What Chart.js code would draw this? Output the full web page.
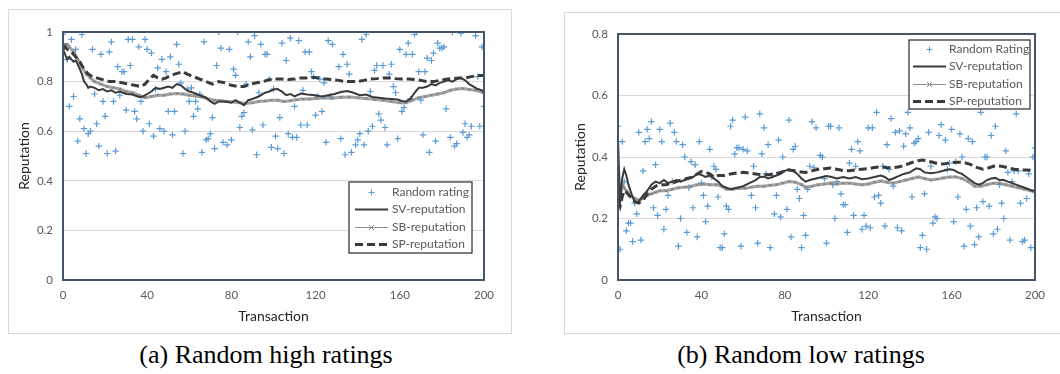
<!DOCTYPE html>
<html>
<head>
<meta charset="utf-8">
<script src="https://cdn.jsdelivr.net/npm/chart.js@4.4.1/dist/chart.umd.min.js"></script>
<style>
  html,body{margin:0;padding:0;background:#fff;}
  body{width:1060px;height:374px;position:relative;overflow:hidden;}
  .frame{position:absolute;border:1px solid #d9d9d9;box-sizing:border-box;}
  canvas{position:absolute;}
  .cap{position:absolute;font-family:"Liberation Serif","Times New Roman",serif;font-size:26px;line-height:30px;color:#000;white-space:nowrap;transform:translateX(-50%);}
</style>
</head>
<body>
<div class="frame" style="left:8px;top:9px;width:504px;height:325px;"></div>
<div class="frame" style="left:564px;top:12px;width:500px;height:322px;"></div>
<canvas id="ca" width="501" height="322" style="left:9px;top:10px;"></canvas>
<canvas id="cb" width="495" height="319" style="left:565px;top:13px;"></canvas>
<div class="cap" id="capA" style="left:266px;top:340px;"></div>
<div class="cap" id="capB" style="left:801px;top:340px;"></div>
<script>
// ---------- DATA ----------
const xTicksStep = 40;
const xMax = 200;
const yMaxHigh = 1;
const yMaxLow = 0.8;
const seriesLabelsHigh = ["Random rating","SV-reputation","SB-reputation","SP-reputation"];
const seriesLabelsLow  = ["Random Rating","SV-reputation","SB-reputation","SP-reputation"];
const captionHigh = "(a) Random high ratings";
const captionLow = "(b) Random low ratings";

// Panel (a): random high ratings  [transaction, rating]
const ratingHigh = [[0,0.953],[1,1.0],[2,0.89],[3,0.70],[4,0.97],[5,0.74],[6,0.93],[7,0.56],[8,0.65],[9,0.99],[10,0.61],[11,0.51],[12,0.59],[13,0.60],[14,0.93],[15,0.75],[16,0.63],[17,0.54],[18,0.91],[19,0.72],[20,0.66],[21,0.51],[22,0.92],[23,0.96],[24,0.72],[25,0.52],[26,0.86],[27,0.745],[28,0.84],[29,0.84],[30,0.685],[31,0.97],[32,0.865],[33,0.97],[34,0.68],[35,0.65],[36,0.94],[37,0.72],[38,0.60],[39,0.97],[40,0.93],[41,0.63],[42,0.915],[43,0.58],[44,0.77],[45,0.855],[46,0.61],[47,0.89],[48,0.60],[49,0.84],[50,0.68],[51,0.90],[52,0.585],[53,0.68],[54,0.95],[55,0.87],[56,0.795],[57,0.51],[58,0.60],[59,0.77],[60,0.72],[61,0.775],[62,0.66],[63,0.72],[64,0.69],[65,0.75],[66,0.515],[67,0.96],[68,0.565],[69,0.57],[70,0.59],[71,0.655],[72,0.53],[73,0.865],[74,1.0],[75,0.935],[76,0.555],[78,0.545],[79,0.93],[80,0.565],[81,0.85],[82,0.825],[83,1.0],[84,0.615],[85,0.66],[86,0.675],[87,0.79],[88,0.96],[89,0.90],[90,0.605],[91,0.985],[92,0.505],[93,0.755],[94,0.95],[95,0.625],[96,0.91],[97,0.91],[98,0.81],[99,0.535],[100,0.77],[101,0.58],[102,0.53],[103,0.655],[104,0.955],[105,0.51],[106,0.885],[107,0.59],[108,0.975],[109,0.575],[110,0.70],[111,0.575],[112,0.965],[113,0.625],[114,0.765],[115,0.92],[116,0.625],[117,0.92],[118,0.84],[119,0.82],[120,0.665],[121,0.74],[122,0.81],[123,0.68],[124,0.795],[125,0.555],[126,0.965],[127,0.74],[128,0.95],[131,0.86],[132,0.57],[133,0.91],[134,0.505],[135,0.87],[136,0.83],[137,0.515],[139,0.545],[140,0.565],[141,0.59],[142,0.97],[143,0.545],[144,0.99],[145,0.60],[146,0.76],[147,0.62],[148,0.845],[149,0.865],[150,0.67],[151,0.645],[152,0.865],[153,0.615],[154,0.545],[155,0.83],[156,0.87],[157,0.78],[158,0.755],[159,0.57],[160,0.93],[161,0.68],[162,0.695],[163,0.91],[164,0.955],[165,0.73],[166,0.91],[167,0.99],[168,1.0],[169,0.84],[170,0.725],[171,0.585],[172,0.84],[173,0.895],[174,0.515],[175,0.885],[176,0.915],[177,0.56],[178,0.955],[179,0.935],[180,0.935],[181,0.94],[182,0.69],[184,0.575],[185,1.0],[186,0.54],[187,0.55],[189,0.995],[190,0.595],[191,0.63],[192,0.575],[193,0.585],[194,0.62],[196,0.985],[197,0.82],[198,0.62],[199,0.94],[200,0.70]];
const svHigh = [[0,0.93],[1,0.91],[2,0.89],[3,0.90],[4,0.89],[5,0.88],[6,0.885],[7,0.87],[8,0.85],[9,0.83],[10,0.80],[11,0.79],[12,0.775],[13,0.78],[15,0.775],[17,0.765],[19,0.77],[21,0.76],[23,0.765],[25,0.755],[27,0.76],[30,0.75],[33,0.748],[36,0.738],[38,0.74],[40,0.75],[42,0.76],[44,0.775],[46,0.77],[48,0.775],[50,0.78],[52,0.775],[54,0.79],[56,0.785],[58,0.77],[60,0.76],[62,0.755],[65,0.745],[68,0.735],[70,0.72],[72,0.71],[74,0.72],[77,0.72],[80,0.715],[82,0.725],[84,0.715],[86,0.705],[88,0.725],[90,0.73],[93,0.74],[96,0.755],[98,0.76],[100,0.768],[102,0.77],[104,0.76],[106,0.745],[108,0.75],[110,0.74],[113,0.752],[116,0.748],[120,0.745],[123,0.74],[126,0.745],[129,0.75],[132,0.758],[135,0.762],[138,0.755],[141,0.745],[144,0.748],[147,0.738],[150,0.735],[153,0.732],[156,0.73],[159,0.728],[161,0.722],[163,0.72],[165,0.73],[167,0.755],[169,0.775],[171,0.775],[173,0.78],[175,0.79],[177,0.785],[179,0.795],[181,0.80],[183,0.805],[185,0.80],[187,0.81],[189,0.815],[191,0.805],[193,0.79],[195,0.78],[197,0.77],[199,0.765],[200,0.755]];
const sbHigh = [[0,0.94],[1,0.95],[2,0.95],[3,0.94],[5,0.92],[7,0.89],[9,0.86],[11,0.83],[13,0.815],[15,0.80],[18,0.79],[21,0.78],[24,0.775],[27,0.77],[30,0.76],[33,0.755],[36,0.745],[39,0.735],[42,0.74],[45,0.745],[48,0.745],[51,0.75],[54,0.752],[57,0.75],[60,0.745],[63,0.742],[66,0.738],[69,0.73],[72,0.725],[75,0.723],[78,0.72],[81,0.718],[84,0.715],[87,0.713],[90,0.715],[93,0.72],[96,0.722],[99,0.725],[102,0.725],[105,0.72],[108,0.723],[111,0.727],[114,0.73],[117,0.73],[120,0.732],[124,0.735],[128,0.733],[132,0.737],[136,0.738],[140,0.735],[144,0.732],[148,0.728],[152,0.725],[156,0.72],[160,0.715],[163,0.715],[166,0.725],[169,0.735],[172,0.74],[175,0.745],[178,0.75],[181,0.755],[184,0.765],[187,0.77],[190,0.772],[193,0.768],[196,0.765],[200,0.755]];
const spHigh = [[0,0.93],[1,0.94],[2,0.93],[4,0.92],[6,0.90],[8,0.88],[10,0.85],[12,0.83],[14,0.82],[16,0.815],[18,0.81],[20,0.805],[22,0.80],[25,0.80],[28,0.795],[31,0.79],[34,0.785],[37,0.78],[39,0.79],[41,0.81],[43,0.825],[45,0.815],[47,0.81],[49,0.815],[51,0.825],[53,0.83],[55,0.835],[57,0.84],[59,0.83],[62,0.82],[65,0.81],[68,0.80],[71,0.79],[74,0.80],[77,0.795],[80,0.785],[83,0.78],[86,0.78],[89,0.79],[92,0.795],[95,0.80],[98,0.808],[101,0.81],[104,0.81],[107,0.808],[110,0.81],[113,0.815],[116,0.815],[119,0.817],[122,0.814],[125,0.81],[128,0.808],[131,0.805],[134,0.80],[137,0.80],[140,0.80],[143,0.805],[146,0.81],[149,0.812],[152,0.815],[155,0.815],[158,0.812],[161,0.81],[164,0.81],[167,0.808],[170,0.805],[173,0.80],[176,0.80],[179,0.805],[182,0.81],[185,0.812],[188,0.815],[191,0.815],[194,0.82],[197,0.825],[200,0.825]];

// Panel (b): random low ratings  [transaction, rating]
const ratingLow = [[0,0.50],[1,0.10],[2,0.45],[3,0.32],[4,0.16],[5,0.185],[6,0.185],[7,0.125],[8,0.25],[9,0.215],[10,0.48],[11,0.13],[12,0.355],[13,0.45],[14,0.49],[15,0.46],[16,0.515],[17,0.235],[18,0.375],[19,0.21],[20,0.49],[21,0.45],[22,0.165],[23,0.23],[24,0.275],[25,0.51],[26,0.32],[27,0.48],[28,0.45],[29,0.11],[30,0.20],[31,0.44],[32,0.40],[33,0.155],[34,0.30],[35,0.385],[36,0.235],[37,0.375],[38,0.14],[39,0.45],[40,0.315],[41,0.275],[42,0.19],[43,0.24],[44,0.425],[45,0.335],[46,0.37],[47,0.36],[48,0.27],[49,0.105],[50,0.105],[51,0.15],[52,0.24],[53,0.23],[54,0.50],[55,0.52],[56,0.41],[57,0.43],[58,0.43],[59,0.11],[60,0.425],[61,0.53],[62,0.42],[64,0.275],[65,0.37],[66,0.235],[67,0.12],[68,0.54],[69,0.41],[70,0.495],[71,0.345],[72,0.44],[73,0.105],[74,0.34],[75,0.215],[76,0.275],[77,0.455],[78,0.205],[79,0.40],[81,0.23],[82,0.52],[83,0.14],[84,0.425],[85,0.435],[86,0.295],[87,0.265],[88,0.105],[89,0.21],[90,0.145],[91,0.295],[92,0.37],[93,0.515],[94,0.365],[95,0.495],[97,0.405],[98,0.40],[99,0.33],[100,0.12],[101,0.50],[102,0.50],[103,0.31],[104,0.20],[105,0.32],[106,0.495],[107,0.28],[108,0.245],[109,0.245],[110,0.155],[111,0.38],[112,0.425],[113,0.21],[114,0.37],[115,0.45],[116,0.42],[117,0.165],[118,0.21],[119,0.175],[120,0.495],[121,0.17],[122,0.495],[123,0.27],[124,0.545],[125,0.275],[126,0.25],[127,0.37],[128,0.175],[129,0.44],[130,0.36],[131,0.525],[132,0.305],[133,0.48],[134,0.17],[135,0.485],[136,0.16],[137,0.435],[138,0.475],[139,0.545],[140,0.495],[141,0.27],[142,0.445],[143,0.45],[144,0.46],[145,0.105],[146,0.145],[147,0.28],[148,0.10],[149,0.48],[150,0.37],[151,0.185],[152,0.205],[153,0.20],[154,0.47],[155,0.505],[157,0.455],[158,0.36],[159,0.38],[160,0.49],[161,0.19],[162,0.385],[163,0.27],[164,0.475],[165,0.40],[166,0.11],[167,0.23],[168,0.46],[169,0.175],[170,0.45],[171,0.115],[172,0.235],[173,0.14],[174,0.545],[175,0.255],[176,0.40],[177,0.40],[178,0.24],[179,0.47],[180,0.15],[181,0.50],[182,0.165],[183,0.31],[184,0.25],[185,0.20],[186,0.42],[187,0.35],[188,0.13],[189,0.32],[190,0.355],[191,0.54],[192,0.355],[193,0.25],[194,0.125],[195,0.13],[196,0.265],[197,0.345],[198,0.105],[199,0.40],[200,0.43]];
const svLow = [[0,0.46],[1,0.25],[2,0.33],[3,0.36],[4,0.34],[5,0.31],[6,0.29],[7,0.27],[8,0.255],[9,0.25],[10,0.255],[11,0.265],[12,0.275],[14,0.29],[16,0.31],[18,0.32],[20,0.315],[22,0.325],[24,0.315],[26,0.32],[28,0.325],[30,0.32],[32,0.325],[34,0.33],[36,0.335],[38,0.345],[40,0.342],[42,0.335],[44,0.34],[46,0.33],[48,0.32],[50,0.305],[52,0.30],[54,0.295],[57,0.30],[60,0.305],[63,0.315],[66,0.325],[68,0.335],[70,0.336],[72,0.33],[74,0.335],[76,0.34],[78,0.345],[80,0.355],[82,0.36],[84,0.355],[86,0.345],[88,0.33],[90,0.32],[92,0.325],[95,0.33],[98,0.335],[100,0.338],[102,0.336],[105,0.33],[108,0.335],[111,0.33],[114,0.335],[117,0.328],[120,0.33],[123,0.335],[126,0.34],[128,0.335],[130,0.325],[132,0.33],[134,0.336],[137,0.345],[140,0.35],[143,0.363],[145,0.36],[147,0.35],[150,0.347],[153,0.35],[156,0.355],[159,0.36],[161,0.358],[163,0.35],[165,0.345],[167,0.335],[169,0.325],[171,0.315],[173,0.31],[175,0.315],[177,0.325],[179,0.33],[181,0.332],[183,0.325],[185,0.325],[187,0.32],[189,0.315],[191,0.31],[193,0.305],[195,0.30],[197,0.295],[199,0.29],[200,0.293]];
const sbLow = [[0,0.30],[1,0.27],[2,0.31],[3,0.30],[4,0.29],[6,0.275],[8,0.265],[10,0.26],[12,0.265],[14,0.275],[16,0.28],[18,0.285],[20,0.29],[23,0.29],[26,0.295],[29,0.30],[32,0.302],[35,0.305],[38,0.31],[41,0.312],[44,0.31],[47,0.31],[50,0.305],[52,0.295],[55,0.295],[58,0.298],[61,0.298],[64,0.302],[67,0.305],[70,0.305],[73,0.308],[76,0.31],[79,0.315],[82,0.32],[85,0.318],[88,0.31],[90,0.302],[93,0.305],[96,0.31],[99,0.312],[102,0.315],[105,0.312],[108,0.315],[111,0.315],[114,0.312],[117,0.31],[120,0.312],[123,0.318],[126,0.322],[129,0.318],[132,0.315],[135,0.32],[138,0.325],[141,0.33],[144,0.335],[147,0.33],[150,0.325],[153,0.328],[156,0.332],[159,0.335],[162,0.335],[165,0.33],[168,0.32],[171,0.305],[174,0.305],[177,0.31],[180,0.315],[183,0.315],[186,0.31],[189,0.305],[192,0.30],[195,0.295],[198,0.29],[200,0.285]];
const spLow = [[0,0.26],[1,0.24],[2,0.27],[3,0.29],[4,0.285],[6,0.27],[8,0.255],[10,0.25],[12,0.26],[14,0.28],[16,0.295],[18,0.305],[20,0.31],[23,0.31],[26,0.315],[28,0.32],[30,0.325],[33,0.33],[36,0.335],[38,0.345],[40,0.353],[42,0.35],[44,0.345],[46,0.335],[48,0.34],[51,0.34],[54,0.345],[57,0.348],[60,0.35],[63,0.348],[66,0.345],[69,0.342],[72,0.342],[75,0.345],[78,0.35],[81,0.358],[84,0.356],[87,0.352],[90,0.35],[93,0.355],[96,0.36],[99,0.362],[102,0.364],[105,0.36],[108,0.356],[111,0.355],[114,0.358],[117,0.36],[120,0.362],[123,0.366],[126,0.368],[129,0.366],[132,0.365],[135,0.368],[138,0.375],[141,0.382],[144,0.388],[146,0.39],[148,0.388],[151,0.383],[154,0.377],[157,0.378],[160,0.382],[163,0.383],[166,0.382],[169,0.376],[172,0.366],[175,0.36],[178,0.365],[181,0.372],[184,0.37],[187,0.365],[190,0.36],[193,0.358],[196,0.358],[200,0.355]];

// ---------- RENDERING ----------
document.getElementById('capA').textContent = captionHigh;
document.getElementById('capB').textContent = captionLow;
const toPts = arr => arr.map(p => ({x: p[0], y: p[1]}));
const FONT = "Lato, 'Open Sans', sans-serif";

const framePlugin = {
  id: 'frameAndLegend',
  afterDraw(chart, args, opts) {
    const ctx = chart.ctx;
    const a = chart.chartArea;
    ctx.save();
    ctx.strokeStyle = '#44546A';
    ctx.lineWidth = 2;
    ctx.strokeRect(a.left, a.top, a.right - a.left, a.bottom - a.top);
    const L = opts.legend;
    ctx.fillStyle = '#ffffff';
    ctx.fillRect(L.x, L.y, L.w, L.h);
    ctx.strokeStyle = '#3a3a3a';
    ctx.lineWidth = 1.3;
    ctx.strokeRect(L.x, L.y, L.w, L.h);
    ctx.font = "12px " + FONT;
    ctx.textBaseline = 'middle';
    chart.data.datasets.forEach((ds, i) => {
      const cy = Math.round(L.y + L.first + i * L.row) + 0.5;
      const sx = L.x + L.s0, ex = L.x + L.s1, mx = (sx + ex) / 2;
      if (ds.showLine === false) {
        ctx.strokeStyle = ds.pointBorderColor;
        ctx.lineWidth = 1;
        ctx.setLineDash([]);
        ctx.beginPath();
        ctx.moveTo(mx - 3, cy); ctx.lineTo(mx + 3, cy);
        ctx.moveTo(mx, cy - 3); ctx.lineTo(mx, cy + 3);
        ctx.stroke();
      } else {
        ctx.strokeStyle = ds.legendColor || ds.borderColor;
        ctx.lineWidth = ds.legendWidth || ds.borderWidth;
        ctx.setLineDash(ds.borderDash || []);
        ctx.beginPath();
        ctx.moveTo(sx, cy); ctx.lineTo(ex, cy);
        ctx.stroke();
        ctx.setLineDash([]);
        if (ds.pointStyle === 'crossRot') {
          ctx.strokeStyle = '#8c8c8c';
          ctx.lineWidth = 1;
          ctx.beginPath();
          ctx.moveTo(mx - 2.5, cy - 2.5); ctx.lineTo(mx + 2.5, cy + 2.5);
          ctx.moveTo(mx + 2.5, cy - 2.5); ctx.lineTo(mx - 2.5, cy + 2.5);
          ctx.stroke();
        }
      }
      ctx.fillStyle = '#595959';
      ctx.textAlign = 'left';
      ctx.fillText(ds.label, L.x + L.t, cy);
    });
    ctx.restore();
  }
};

function makeChart(id, labels, rating, sv, sb, sp, yMax, legendBox, xAxisH, yAxisW, pad) {
  return new Chart(document.getElementById(id), {
    type: 'scatter',
    data: {
      datasets: [
        { label: labels[0], data: toPts(rating), showLine: false, pointStyle: 'cross',
          pointRadius: 3.2, pointBorderColor: '#5B9BD5', pointBackgroundColor: '#5B9BD5',
          pointBorderWidth: 1.2, order: 4 },
        { label: labels[1], data: toPts(sv), showLine: true, borderColor: '#3a3a3a',
          borderWidth: 2, pointRadius: 0, order: 2 },
        { label: labels[2], data: toPts(sb), showLine: true, borderColor: 'rgba(140,140,140,0.8)',
          borderWidth: 3, pointStyle: 'crossRot', pointRadius: 2, pointBorderWidth: 1,
          pointBorderColor: 'rgba(120,120,120,0.8)', legendColor: '#8c8c8c', legendWidth: 1.2, order: 3 },
        { label: labels[3], data: toPts(sp), showLine: true, borderColor: '#3a3a3a',
          borderWidth: 3, borderDash: [8, 4], pointRadius: 0, order: 1 }
      ]
    },
    options: {
      responsive: false,
      animation: false,
      layout: { padding: pad },
      plugins: {
        legend: { display: false },
        tooltip: { enabled: false },
        frameAndLegend: { legend: legendBox }
      },
      scales: {
        x: {
          type: 'linear', min: 0, max: xMax,
          afterFit(s) { s.height = xAxisH; },
          ticks: { stepSize: xTicksStep, color: '#595959', padding: 8, font: { family: FONT, size: 11.5 } },
          grid: { display: false, drawTicks: false },
          border: { display: false },
          title: { display: true, text: 'Transaction', color: '#262626',
                   font: { family: FONT, size: 14 }, padding: { top: 0, bottom: 7 } }
        },
        y: {
          min: 0, max: yMax,
          afterFit(s) { s.width = yAxisW; },
          ticks: { stepSize: 0.2, color: '#595959', padding: 10, font: { family: FONT, size: 11.5 },
                   callback: v => String(Math.round(v * 10) / 10) },
          grid: { color: '#d9d9d9', lineWidth: 1, drawTicks: false },
          border: { display: false },
          title: { display: true, text: 'Reputation', color: '#262626',
                   font: { family: FONT, size: 14 }, padding: { top: 7, bottom: 0 } }
        }
      }
    },
    plugins: [framePlugin]
  });
}

makeChart('ca', seriesLabelsHigh, ratingHigh, svHigh, sbHigh, spHigh, yMaxHigh,
  { x: 340, y: 172, w: 123, h: 71, first: 10, row: 17.4, s0: 6, s1: 39, t: 43 },
  52, 54, { top: 22, right: 26, left: 0, bottom: 0 });

makeChart('cb', seriesLabelsLow, ratingLow, svLow, sbLow, spLow, yMaxLow,
  { x: 344, y: 27, w: 121, h: 69, first: 9, row: 17.4, s0: 4, s1: 37, t: 40 },
  52, 53, { top: 21, right: 25, left: 0, bottom: 0 });
</script>
</body>
</html>
